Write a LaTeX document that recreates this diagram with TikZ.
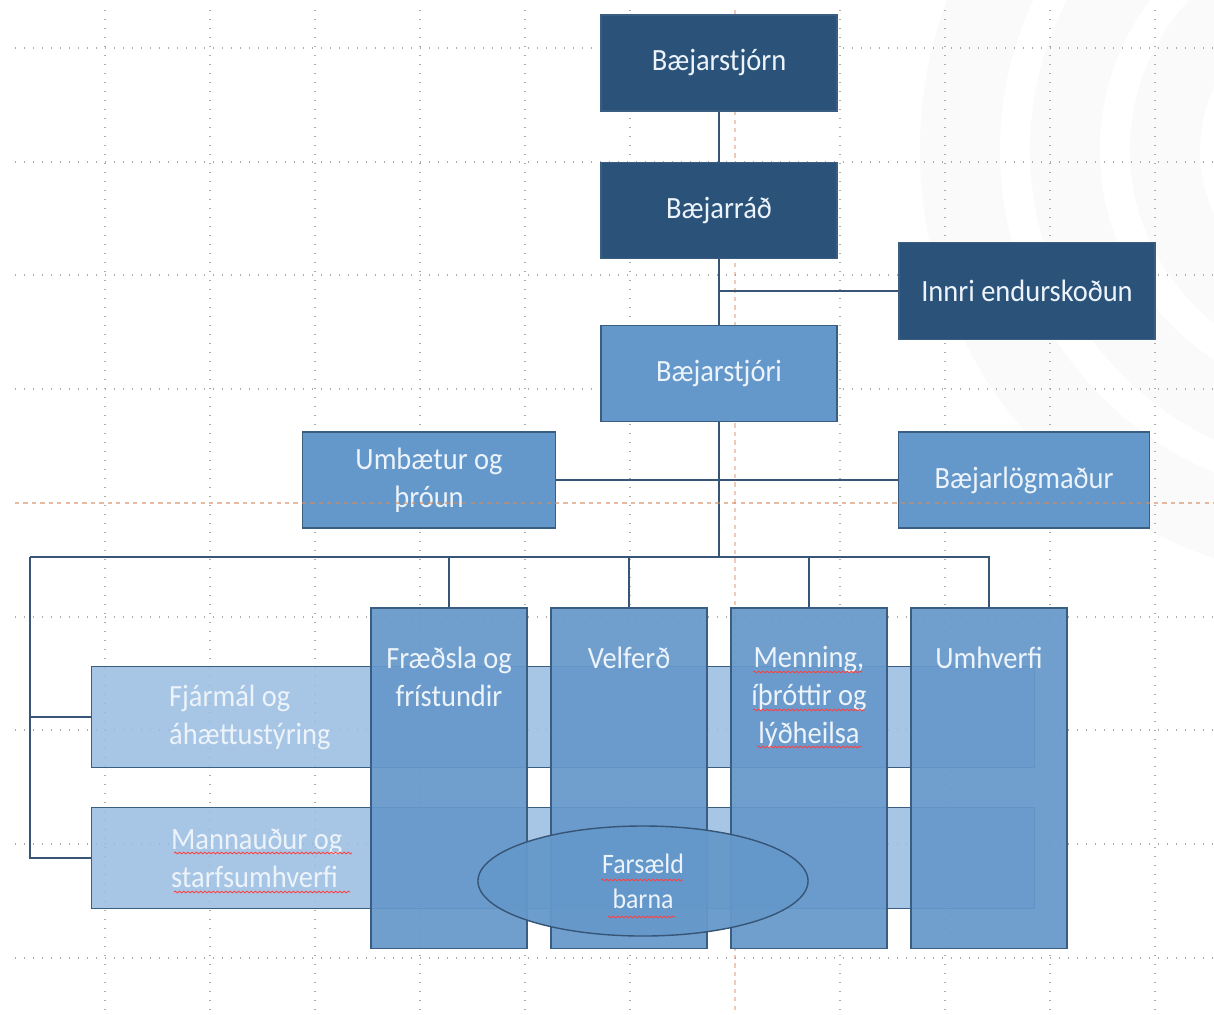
\documentclass[tikz,border=0pt]{standalone}
\usepackage{fontspec}
\setmainfont{Carlito}[FakeStretch=0.92]
\usetikzlibrary{positioning,shapes.geometric,decorations.pathmorphing}
\definecolor{oscuro}{RGB}{43,83,122}
\definecolor{medio}{RGB}{101,152,202}
\definecolor{claro}{RGB}{152,188,224}
\definecolor{borde}{RGB}{58,94,130}
\definecolor{linea}{RGB}{55,85,118}
\definecolor{texto}{RGB}{236,243,250}
\definecolor{guia}{RGB}{214,140,96}
\tikzset{
  caja/.style={rectangle, draw=borde, line width=0.8pt, text=texto, align=center,
    font=\fontsize{22}{27}\selectfont},
  cajaosc/.style={caja, fill=oscuro},
  cajamed/.style={caja, fill=medio},
  columna/.style={rectangle, draw=borde, line width=0.8pt, fill=medio, fill opacity=0.93,
    minimum width=3.9cm, minimum height=8.5cm},
  fila/.style={rectangle, draw=borde, line width=0.8pt, fill=claro, fill opacity=0.85,
    minimum width=23.575cm, minimum height=2.525cm},
  txt/.style={text=texto, inner sep=0pt, font=\fontsize{22}{27}\selectfont},
  conector/.style={draw=linea, line width=2pt},
  rejilla/.style={gray!65, line width=0.9pt, dash pattern=on 0.9pt off 5.5pt},
  naranja/.style={guia, line width=0.9pt, dash pattern=on 3pt off 3pt},
  subrayado/.style={red!75, line width=0.6pt, decorate,
    decoration={snake, segment length=3pt, amplitude=0.6pt}},
  marca/.style={fill=gray!4, even odd rule}
}
\begin{document}
\begin{tikzpicture}[x=0.025cm, y=-0.025cm]
        \useasboundingbox (0,0) rectangle (1214,1014);
        % Marca de agua
        \begin{scope}
            \clip (0,0) rectangle (1214,1014);
            \fill[marca] (1350,150) circle[radius=10.75cm] (1350,150) circle[radius=8.75cm];
            \fill[marca] (1350,150) circle[radius=8cm] (1350,150) circle[radius=6.25cm];
            \fill[marca] (1350,150) circle[radius=5.5cm] (1350,150) circle[radius=3.75cm];
        \end{scope}
        % Cuadrícula
        \foreach \y in {48,162,275,389,617,730,844,958} \draw[rejilla] (15,\y) -- (1214,\y);
        \foreach \x in {105,210,315,420,525,630,840,945,1050,1155} \draw[rejilla] (\x,10) -- (\x,1014);
        \draw[naranja, opacity=0.45] (735,10) -- (735,1014);
        % Cajas de arriba
        \node[cajaosc, minimum width=5.9cm, minimum height=2.4cm] (stjorn) at (719,63) {Bæjarstjórn};
        \node[cajaosc, minimum width=5.9cm, minimum height=2.4cm, below=1.25cm of stjorn] (rad) {Bæjarráð};
        \node[cajaosc, minimum width=6.4cm, minimum height=2.425cm] (innri) at (1027,291) {Innri endurskoðun};
        \node[cajamed, minimum width=5.9cm, minimum height=2.4cm, below=1.65cm of rad] (stjori) {Bæjarstjóri};
        \node[cajamed, minimum width=6.325cm, minimum height=2.4cm] (umb) at (429,480) {Umbætur og\\þróun};
        \node[cajamed, minimum width=6.275cm, minimum height=2.4cm] (log) at (1024,480) {Bæjarlögmaður};
        % Filas y columnas
        \node[fila] (fja) at (563,717) {};
        \node[fila] (mann) at (563,858) {};
        \node[columna] (fr) at (449,778) {};
        \node[columna] (vel) at (629,778) {};
        \node[columna] (men) at (809,778) {};
        \node[columna] (umh) at (989,778) {};
        \node[ellipse, draw=linea, line width=1pt, fill=medio, fill opacity=0.95, text opacity=1,
            text=texto, align=center, font=\fontsize{20}{25}\selectfont,
            minimum width=8.25cm, minimum height=2.75cm] (fars) at (643,881) {Farsæld\\barna};
        % Textos
        \node[txt, align=center, below=0.975cm of fr.north] (frtxt) {Fræðsla og\\frístundir};
        \node[txt, align=center, below=0.975cm of vel.north] (veltxt) {Velferð};
        \node[txt, align=center, below=0.975cm of men.north] (mentxt) {Menning,\\íþróttir og\\lýðheilsa};
        \node[txt, align=center, below=0.975cm of umh.north] (umhtxt) {Umhverfi};
        \node[txt, align=left, right=1.95cm of fja.west] (fjatxt) {Fjármál og\\áhættustýring};
        \node[txt, align=left, right=2cm of mann.west] (manntxt) {Mannauður og\\starfsumhverfi};
        % Conectores
        \coordinate (bus) at (30,557);
        \draw[conector] (stjorn) -- (rad);
        \draw[conector] (rad) -- (stjori);
        \draw[conector] (innri.west) -- (innri.west -| rad.south);
        \draw[conector] (umb) -- (log);
        \draw[conector] (stjori.south) -- (stjori.south |- bus);
        \draw[conector] (bus) -- (bus -| umh.north) -- (umh.north);
        \foreach \c in {fr,vel,men} \draw[conector] (\c.north) -- (\c.north |- bus);
        \draw[conector] (bus) |- (mann.west);
        \draw[conector] (bus |- fja.west) -- (fja.west);
        % Guía y subrayados
        \draw[naranja, opacity=0.6] (15,503) -- (1214,503);
        \foreach \a/\b/\y in {753/862/672, 753/865/710, 757/862/747, 174/352/853, 174/350/892, 601/683/880, 608/676/917}
            \draw[subrayado] (\a,\y) -- (\b,\y);
    \end{tikzpicture}
\end{document}
